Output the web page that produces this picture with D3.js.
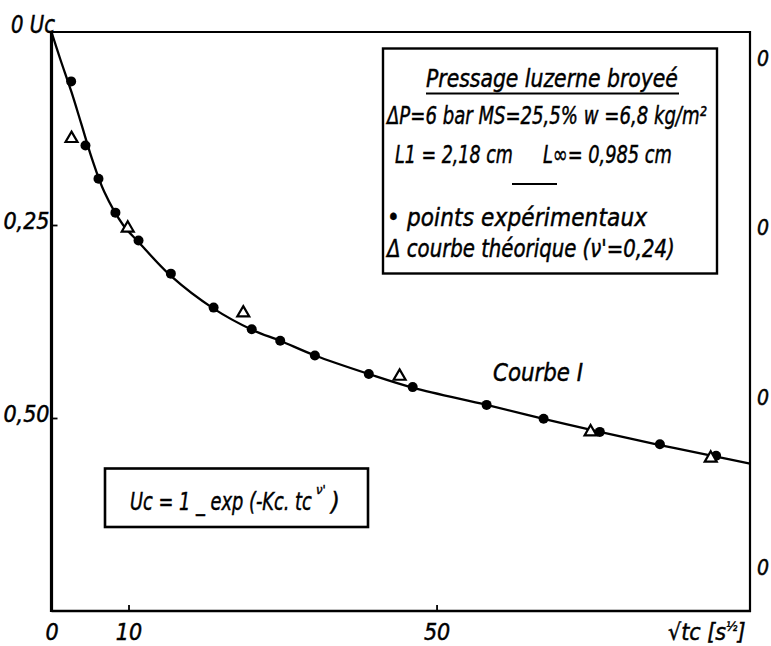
<!DOCTYPE html>
<html>
<head>
<meta charset="utf-8">
<script src="https://cdn.jsdelivr.net/npm/d3@7"></script>
<style>
  html, body { margin: 0; padding: 0; background: #fff; }
  svg { display: block; }
  text { font-family: "DejaVu Sans Condensed", "DejaVu Sans", sans-serif; font-style: italic; fill: #000; stroke: #000; stroke-width: 0.45px; }
</style>
</head>
<body>
<svg id="chart" width="771" height="646"></svg>
<script>
// ---- data ----
// experimental points (filled circles): x = sqrt(tc) [s^1/2], y = Uc
const dotsX = [2.55, 4.41, 6.1, 8.3, 11.3, 15.5, 21.05, 26.0, 29.7, 34.2, 41.2, 46.9, 56.5, 63.9, 71.2, 79.0, 86.3];
const dotsY = [0.064, 0.147, 0.190, 0.234, 0.270, 0.313, 0.357, 0.385, 0.400, 0.419, 0.443, 0.460, 0.483, 0.501, 0.518, 0.534, 0.549];
// theoretical points (open triangles)
const triX = [2.6, 9.9, 24.9, 45.2, 70.0, 85.6];
const triY = [0.138, 0.254, 0.364, 0.446, 0.518, 0.552];
// drawn curve "Courbe I"
const curveX = [0, 1.1, 2.6, 3.9, 5.25, 6.85, 9.3, 11.3, 15.5, 21.0, 26.1, 29.7, 34.2, 41.2, 47.0, 56.5, 63.9, 71.2, 79.0, 86.3, 90.7];
const curveY = [0, 0.034, 0.078, 0.120, 0.164, 0.207, 0.250, 0.272, 0.316, 0.358, 0.386, 0.400, 0.419, 0.443, 0.461, 0.483, 0.501, 0.518, 0.535, 0.550, 0.559];
// axis ticks
const xTicks = [0, 10, 50];
const xTickLabels = ["0", "10", "50"];
const yTicks = [0.25, 0.50];
const yTickLabels = ["0,25", "0,50"];
const xMax = 90.7, yMax = 0.75;

// ---- layout ----
const L = 51.5, R = 750, T = 32, B = 611;
const svg = d3.select("#chart");
const x = d3.scaleLinear().domain([0, xMax]).range([L, R]);
const y = d3.scaleLinear().domain([0, yMax]).range([T, B]);

// text fitted to a target width: shrink font to fit, then restore height by a vertical scale
function fitText(str, x0, yb, w, fs) {
  const t = svg.append("text").attr("font-size", fs).text(str);
  const nw = t.node().getComputedTextLength();
  if (nw > w) {
    const fs2 = fs * w / nw;
    t.attr("font-size", fs2)
     .attr("transform", `translate(${x0},${yb}) scale(1,${fs / fs2})`)
     .style("stroke-width", (0.45 * fs2 / fs) + "px");
  } else {
    t.attr("x", x0).attr("y", yb).attr("textLength", w).attr("lengthAdjust", "spacing");
  }
  return t;
}

// frame
svg.append("line").attr("x1", L).attr("x2", R).attr("y1", T).attr("y2", T).attr("stroke", "#000").attr("stroke-width", 2.2);
svg.append("line").attr("x1", R).attr("x2", R).attr("y1", T - 1).attr("y2", B + 1).attr("stroke", "#000").attr("stroke-width", 2.2);
svg.append("line").attr("x1", L).attr("x2", R + 1).attr("y1", B).attr("y2", B).attr("stroke", "#000").attr("stroke-width", 2.4);
svg.append("line").attr("x1", L).attr("x2", L).attr("y1", T - 1).attr("y2", B + 1).attr("stroke", "#000").attr("stroke-width", 3.2);

// x axis
const xAxis = d3.axisBottom(x).tickValues(xTicks)
  .tickFormat((d, i) => xTickLabels[i]).tickSize(-6).tickPadding(12.5);
const gx = svg.append("g").attr("transform", `translate(0,${B})`).call(xAxis);
gx.select(".domain").remove();
gx.selectAll(".tick line").attr("stroke", "#000").attr("stroke-width", 1.8)
  .filter(d => d === 0).remove();
gx.selectAll(".tick text").attr("font-size", 23).style("font-family", null);

// y axis
const yAxis = d3.axisLeft(y).tickValues(yTicks)
  .tickFormat((d, i) => yTickLabels[i]).tickSize(-6).tickPadding(2);
const gy = svg.append("g").attr("transform", `translate(${L},0)`).call(yAxis);
gy.select(".domain").remove();
gy.selectAll(".tick line").attr("stroke", "#000").attr("stroke-width", 1.8);
gy.selectAll(".tick text").attr("font-size", 22).attr("dy", "0.13em").style("font-family", null)
  .attr("transform", "scale(1,1.13)").attr("y", function(d) { return 0; });
// keep the baseline position after the vertical stretch
gy.selectAll(".tick text").attr("transform", null).attr("font-size", 23);

// top-left "0 Uc"
fitText("0 Uc", 11, 33, 44, 24);

// x axis title
const xt = svg.append("text").attr("x", 668).attr("y", 640).attr("font-size", 23);
xt.append("tspan").text("√tc [s");
xt.append("tspan").attr("font-size", 13).attr("dy", -9).text("½");
xt.append("tspan").attr("dy", 9).text("]");

// labels of the neighbouring scale, at the right edge
[57, 226, 396, 566].forEach(cy => {
  svg.append("text").attr("x", 757).attr("y", cy + 9).attr("font-size", 21).text("0");
});

// curve
const line = d3.line().x(d => x(d[0])).y(d => y(d[1])).curve(d3.curveCatmullRom.alpha(0.5));
svg.append("path").datum(curveX.map((v, i) => [v, curveY[i]]))
  .attr("d", line).attr("fill", "none").attr("stroke", "#000").attr("stroke-width", 2.3);

// experimental points
svg.append("g").selectAll("circle").data(dotsX.map((v, i) => [v, dotsY[i]])).join("circle")
  .attr("cx", d => x(d[0])).attr("cy", d => y(d[1])).attr("r", 5).attr("fill", "#000");

// theoretical points
const tri = d3.symbol().type(d3.symbolTriangle).size(62);
svg.append("g").selectAll("path").data(triX.map((v, i) => [v, triY[i]])).join("path")
  .attr("transform", d => `translate(${x(d[0])},${y(d[1])})`)
  .attr("d", tri).attr("fill", "#fff").attr("stroke", "#000").attr("stroke-width", 2.2);

// legend box
svg.append("rect").attr("x", 383).attr("y", 48.5).attr("width", 334).attr("height", 225)
  .attr("fill", "#fff").attr("stroke", "#000").attr("stroke-width", 2.4);
fitText("Pressage luzerne broyeé", 426, 87, 252, 25);
svg.append("line").attr("x1", 426).attr("x2", 679).attr("y1", 93.5).attr("y2", 93.5).attr("stroke", "#000").attr("stroke-width", 1.8);
fitText("ΔP=6 bar MS=25,5% w =6,8 kg/m²", 387, 124, 320, 25);
fitText("L1 = 2,18 cm", 395, 163, 118, 25);
fitText("L∞= 0,985 cm", 543, 163, 129, 25);
svg.append("line").attr("x1", 512).attr("x2", 557).attr("y1", 184).attr("y2", 184).attr("stroke", "#000").attr("stroke-width", 2);
fitText("• points expérimentaux", 387, 226, 260, 24);
fitText("Δ courbe théorique (ν'=0,24)", 387, 257, 288, 24);

// formula box
svg.append("rect").attr("x", 105).attr("y", 468.5).attr("width", 263).attr("height", 58.5)
  .attr("fill", "#fff").attr("stroke", "#000").attr("stroke-width", 2.6);
fitText("Uc = 1 _ exp (-Kc. tc", 130, 510, 182, 25);
svg.append("text").attr("x", 316).attr("y", 494).attr("font-size", 13).text("ν'");
svg.append("text").attr("x", 331).attr("y", 510).attr("font-size", 25).text(")");

// curve label
fitText("Courbe I", 493, 381, 90, 25);
</script>
</body>
</html>
